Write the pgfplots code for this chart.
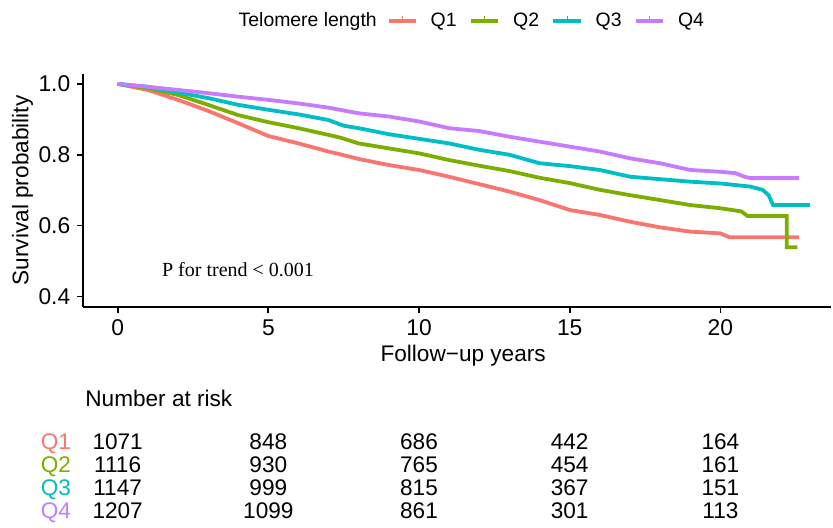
\documentclass[border=0pt]{standalone}
\usepackage{fontspec}
\setmainfont{Liberation Sans}
\newfontfamily\seriffont{Liberation Serif}
\usepackage{pgfplots}
\usepackage{pgfplotstable}
\pgfplotsset{compat=1.18}
\definecolor{cQ1}{HTML}{F8766D}
\definecolor{cQ2}{HTML}{7CAE00}
\definecolor{cQ3}{HTML}{00BFC4}
\definecolor{cQ4}{HTML}{C77CFF}

\pgfplotstableread{
t s
0 1.000
1 0.983
2 0.955
3 0.924
4 0.889
5 0.853
6 0.832
7 0.809
7.4 0.801
8 0.788
9 0.771
10 0.757
11 0.738
12 0.717
13 0.696
14 0.672
15 0.644
16 0.630
17 0.611
18 0.595
19 0.583
20 0.578
20.3 0.567
22.6 0.567
}\qone
\pgfplotstableread{
t s
0 1.000
1 0.988
2 0.969
3 0.941
4 0.912
5 0.892
6 0.875
7 0.856
7.4 0.848
8 0.832
9 0.818
10 0.804
11 0.785
12 0.769
13 0.754
14 0.735
15 0.720
16 0.701
17 0.686
18 0.672
19 0.658
20 0.649
20.7 0.640
20.9 0.627
22.2 0.627
22.2 0.539
22.55 0.539
}\qtwo
\pgfplotstableread{
t s
0 1.000
1 0.992
2 0.976
3 0.960
4 0.941
5 0.927
6 0.914
7 0.898
7.5 0.882
8 0.875
9 0.858
10 0.845
11 0.832
12 0.814
13 0.800
14 0.776
15 0.768
16 0.757
17 0.738
18 0.731
19 0.724
20 0.719
21 0.710
21.4 0.701
21.6 0.686
21.75 0.658
22.98 0.658
}\qthree
\pgfplotstableread{
t s
0 1.000
1 0.992
2 0.983
3 0.974
4 0.964
5 0.955
6 0.945
7 0.933
8 0.917
9 0.908
10 0.894
11 0.875
12 0.867
13 0.851
14 0.837
15 0.823
16 0.809
17 0.790
18 0.776
19 0.757
20 0.752
20.5 0.748
20.8 0.738
21 0.734
22.6 0.734
}\qfour
\pgfplotstableread{
t row n
0 1 1071
5 1 848
10 1 686
15 1 442
20 1 164
0 2 1116
5 2 930
10 2 765
15 2 454
20 2 161
0 3 1147
5 3 999
10 3 815
15 3 367
20 3 151
0 4 1207
5 4 1099
10 4 861
15 4 301
20 4 113
}\risk

\begin{document}
\begin{tikzpicture}
\path[use as bounding box] (-41.65bp,-110.65bp) rectangle (374.85bp,153.35bp);
\begin{axis}[
  at={(0bp,0bp)}, anchor=south west,
  scale only axis, width=373.85bp, height=116.35bp,
  xmin=-1.14, xmax=23.67, ymin=0.371, ymax=1.028,
  axis x line*=bottom, axis y line*=left,
  axis line style={line width=0.9bp, black, -},
  xtick={0,5,10,15,20}, ytick={0.4,0.6,0.8,1.0},
  tick style={line width=0.9bp, black},
  tick align=outside, major tick length=3bp,
  /pgf/number format/assume math mode=true,
  yticklabel style={/pgf/number format/fixed,/pgf/number format/fixed zerofill,/pgf/number format/precision=1},
  tick label style={font=\fontsize{11.4bp}{13bp}\selectfont, black},
  label style={font=\fontsize{11.3bp}{13.5bp}\selectfont},
  xlabel={Follow\char"2212 up years},
  ylabel={Survival probability},
  xlabel style={at={(axis description cs:0.508,-0.2376)}, anchor=base},
  ylabel style={at={(axis description cs:-0.0813,0.5)}, anchor=center},
  clip=false,
  legend columns=-1,
  legend style={draw=none, fill=none, at={(151.7bp,142.85bp)}, anchor=west,
    inner sep=0pt, outer sep=0pt,
    font=\fontsize{9.7bp}{11bp}\selectfont,
    nodes={inner sep=0pt},
    /tikz/every odd column/.append style={column sep=6.5bp},
    /tikz/every even column/.append style={column sep=6.3bp}},
  legend image code/.code={
    \draw[#1, line width=1.8bp] (0bp,0bp) -- (13.7bp,0bp);
    \draw[#1, line width=0.5bp] (6.85bp,0bp) -- (6.85bp,2.4bp);},
]
\addplot[cQ1, line width=1.9bp] table[x=t,y=s] {\qone};
\addlegendentry{Q1}
\addplot[cQ2, line width=1.9bp] table[x=t,y=s] {\qtwo};
\addlegendentry{Q2}
\addplot[cQ3, line width=1.9bp] table[x=t,y=s] {\qthree};
\addlegendentry{Q3}
\addplot[cQ4, line width=1.9bp] table[x=t,y=s] {\qfour};
\addlegendentry{Q4}
\end{axis}

\node[anchor=base west, inner sep=0pt, font=\seriffont\fontsize{10bp}{12bp}\selectfont] at (39.2bp,15bp) {P for trend < 0.001};
\node[anchor=west, inner sep=0pt, font=\fontsize{9.7bp}{11bp}\selectfont] at (77.5bp,142.85bp) {Telomere length};
\node[anchor=base west, inner sep=0pt, font=\fontsize{11.3bp}{13bp}\selectfont] at (0.85bp,-50bp) {Number at risk};

\begin{axis}[
  at={(0bp,-107.4bp)}, anchor=south west,
  scale only axis, width=373.85bp, height=45.6bp,
  xmin=-1.14, xmax=23.67, ymin=0.5, ymax=4.5, y dir=reverse,
  hide axis, clip=false,
]
\addplot[only marks, mark=none, nodes near coords, point meta=explicit symbolic,
  every node near coord/.append style={anchor=center, inner sep=0pt, text height=8bp, text depth=0pt,
    font=\fontsize{11.3bp}{13bp}\selectfont, black}]
  table[x=t, y=row, meta=n] {\risk};
\node[cQ1, anchor=center, inner sep=0pt, text height=8bp, text depth=0pt, font=\fontsize{11.3bp}{13bp}\selectfont] at (axis cs:-2.05,1) {Q1};
\node[cQ2, anchor=center, inner sep=0pt, text height=8bp, text depth=0pt, font=\fontsize{11.3bp}{13bp}\selectfont] at (axis cs:-2.05,2) {Q2};
\node[cQ3, anchor=center, inner sep=0pt, text height=8bp, text depth=0pt, font=\fontsize{11.3bp}{13bp}\selectfont] at (axis cs:-2.05,3) {Q3};
\node[cQ4, anchor=center, inner sep=0pt, text height=8bp, text depth=0pt, font=\fontsize{11.3bp}{13bp}\selectfont] at (axis cs:-2.05,4) {Q4};
\end{axis}
\end{tikzpicture}
\end{document}
